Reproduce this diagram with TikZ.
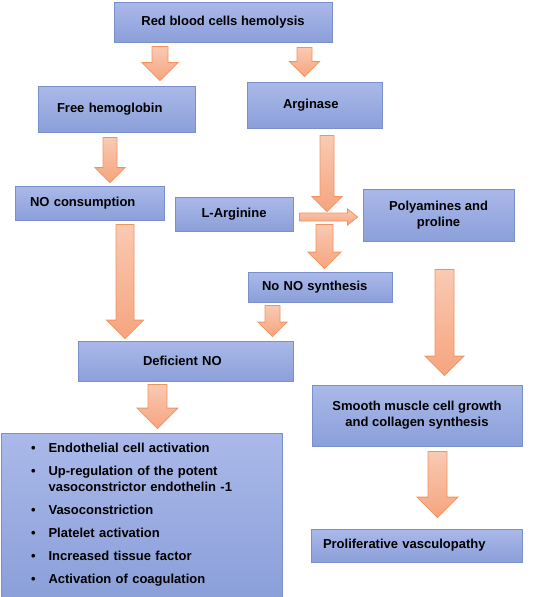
\documentclass[tikz,border=0pt]{standalone}
\usepackage{fontspec}
\setmainfont{Liberation Sans}
\usepackage{xcolor}
\usepackage{tikz}
\usetikzlibrary{calc}
\definecolor{boxtop}{HTML}{AAB9E9}
\definecolor{boxbot}{HTML}{8B9FD9}
\definecolor{boxline}{HTML}{7A90CD}
\definecolor{arrtop}{HTML}{F9CAB3}
\definecolor{arrbot}{HTML}{F6A47E}
\definecolor{arrline}{HTML}{F2935E}

% block arrow pointing down: #1 top centre, #2 tip, #3 half body, #4 half head
\newcommand{\fatarrow}[4]{%
  \path[fat] let \p1=(#1), \p2=(#2) in
    (\x2-#3pt,\y1) -- (\x2+#3pt,\y1) -- (\x2+#3pt,\y2+#4pt)
    -- (\x2+#4pt,\y2+#4pt) -- (\x2,\y2) -- (\x2-#4pt,\y2+#4pt)
    -- (\x2-#3pt,\y2+#4pt) -- cycle;}

\begin{document}
\begin{tikzpicture}[x=1pt,y=-1pt,
  font=\bfseries\fontsize{13}{16}\selectfont,
  box/.style={draw=boxline,line width=0.8pt,top color=boxtop,
    bottom color=boxbot,inner sep=2pt,align=center},
  lbox/.style={box,inner xsep=0pt,text width=#1,align=left},
  fat/.style={draw=arrline,line width=0.8pt,top color=arrtop,
    bottom color=arrbot}]
  \useasboundingbox (0,0) rectangle (535,597);

  % boxes
  \node[box,minimum width=218,minimum height=40] (rbc) at (223,22)
    {Red blood cells hemolysis};
  \node[lbox=119,minimum width=157,minimum height=46] (freehb) at (116.5,109)
    {Free hemoglobin};
  \node[lbox=63,minimum width=135,minimum height=46] (arginase) at (314.5,105)
    {Arginase};
  \node[lbox=119,minimum width=149,minimum height=34] (nocons) at (89.5,203)
    {NO consumption};
  \node[box,minimum width=118,minimum height=34] (larg) at (234,214)
    {L-Arginine};
  \node[box,minimum width=151,minimum height=52] (polyam) at (438.5,215)
    {Polyamines and\\proline};
  \node[lbox=116,minimum width=144,minimum height=30] (nonos) at (320,287)
    {No NO synthesis};
  \node[lbox=85,minimum width=215,minimum height=40] (defno) at (185.5,361)
    {Deficient NO};
  \node[box,minimum width=210,minimum height=61] (smooth) at (417,415.5)
    {Smooth muscle cell growth\\and collagen synthesis};
  \node[lbox=187,minimum width=211,minimum height=33] (prolif) at (416.5,545.5)
    {Proliferative vasculopathy};
  \node[box,minimum width=281,minimum height=164,text width=221,align=left]
    (effects) at (141.5,515)
    {\begin{tabular}{@{}l@{\hspace{13pt}}l@{}}
      \textbullet & Endothelial cell activation\\[7pt]
      \textbullet & Up-regulation of the potent\\
                  & vasoconstrictor endothelin -1\\[7pt]
      \textbullet & Vasoconstriction\\[7pt]
      \textbullet & Platelet activation\\[7pt]
      \textbullet & Increased tissue factor\\[7pt]
      \textbullet & Activation of coagulation
    \end{tabular}};

  % block arrows
  \fatarrow{$(rbc.south -| 160,0)+(0,4)$}{$(freehb.north -| 160,0)+(0,-5)$}{8}{18}
  \fatarrow{$(rbc.south -| 304.5,0)+(0,5)$}{$(arginase.north -| 304.5,0)+(0,-5)$}{7.5}{15}
  \fatarrow{$(freehb.south -| 110,0)+(0,5)$}{$(nocons.north -| 110,0)+(0,-3)$}{7}{15}
  \fatarrow{$(arginase.south -| 327,0)+(0,7)$}{$(larg.north -| 327,0)+(0,15)$}{7}{15}
  \fatarrow{$(larg.south -| 324.5,0)+(0,-7)$}{$(nonos.north -| 324.5,0)+(0,-3)$}{8.5}{16.5}
  \fatarrow{$(nocons.south -| 125,0)+(0,4)$}{$(defno.north -| 125,0)+(0,-2)$}{9}{18.5}
  \fatarrow{$(nonos.south -| 272.5,0)+(0,3)$}{$(defno.north -| 272.5,0)+(0,-4)$}{7.5}{14.5}
  \fatarrow{$(polyam.south -| 444.5,0)+(0,28)$}{$(smooth.north -| 444.5,0)+(0,-9)$}{9.5}{19.5}
  \fatarrow{$(defno.south -| 157.5,0)+(0,3)$}{$(effects.north -| 157.5,0)+(0,-4)$}{9.5}{20.5}
  \fatarrow{$(smooth.south -| 437.5,0)+(0,5)$}{$(prolif.north -| 437.5,0)+(0,-11)$}{9.5}{20.5}

  % L-Arginine to polyamines
  \path[fat] let \p1=($(larg.east)+(6,3)$), \p2=($(polyam.west)+(-5,0)$) in
    (\x1,\y1+4pt) -- (\x2-10pt,\y1+4pt) -- (\x2-10pt,\y1+8pt) -- (\x2,\y1)
    -- (\x2-10pt,\y1-8pt) -- (\x2-10pt,\y1-4pt) -- (\x1,\y1-4pt) -- cycle;
\end{tikzpicture}
\end{document}
